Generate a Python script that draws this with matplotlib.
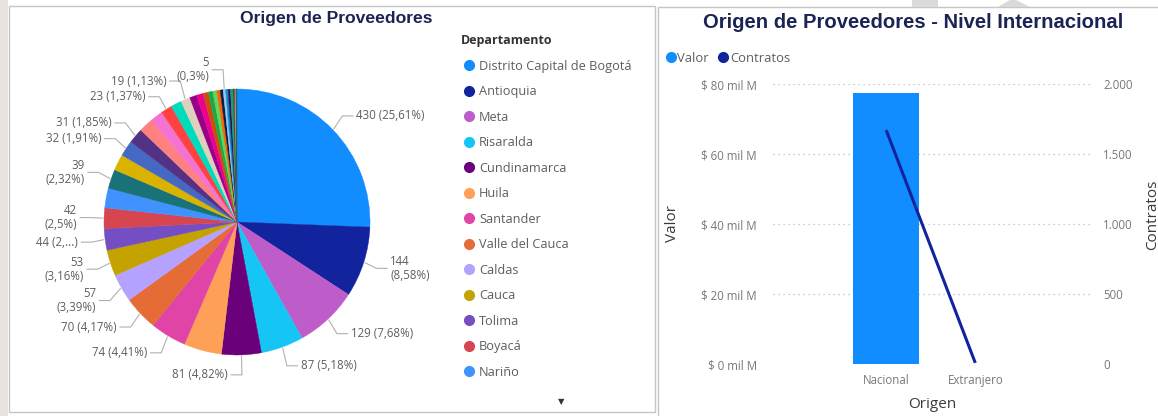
import numpy as np
import matplotlib
matplotlib.use("Agg")
import matplotlib.pyplot as plt
from matplotlib.lines import Line2D
from matplotlib.patches import Rectangle, Polygon
from matplotlib.ticker import FuncFormatter, MultipleLocator

# --- data: contratos por departamento (pie, in drawing order) ---
departamentos = [
    "Distrito Capital de Bogotá", "Antioquia", "Meta", "Risaralda", "Cundinamarca",
    "Huila", "Santander", "Valle del Cauca", "Caldas", "Cauca", "Tolima", "Boyacá",
    "Nariño", "Quindío", "Bolívar", "Atlántico", "Norte de Santander", "Magdalena",
    "Casanare", "Córdoba", "Sucre", "Cesar", "Caquetá", "Putumayo", "La Guajira",
    "Chocó", "Arauca", "Amazonas", "Guaviare", "San Andrés", "Vichada", "Vaupés",
    "Guainía", "Estados Unidos", "España", "México", "Panamá", "Chile",
]
contratos_dep = [430, 144, 129, 87, 81, 77, 74, 70, 57, 53, 44, 42, 40, 39, 33, 32,
                 31, 29, 26, 23, 22, 19, 15, 13, 11, 9, 8, 7, 6, 5, 5, 5, 5,
                 2, 2, 2, 1, 1]
colores_dep = [
    "#118DFF", "#12239E", "#BE5DC9", "#15C6F4", "#6B007B", "#FFA058", "#E044A7",
    "#E66C37", "#B5A1FF", "#C4A200", "#744EC2", "#D64550", "#4092FF", "#197278",
    "#D9B300", "#4668C5", "#533285", "#FF8080", "#F472D0", "#FF4141", "#00DBBC",
    "#DDD1BD", "#99008A", "#EC008C", "#C94F0F", "#1AAB40", "#5BD667", "#FF6300",
    "#002050", "#9FC3E7", "#0091D5", "#34124F", "#1F9A85", "#235A1E", "#6A531F",
    "#A0A0A0", "#450F54", "#1F7066",
]
# departments whose data label Power BI shows
con_etiqueta = ["Distrito Capital de Bogotá", "Antioquia", "Meta", "Risaralda",
                "Cundinamarca", "Santander", "Valle del Cauca", "Caldas", "Cauca",
                "Tolima", "Boyacá", "Quindío", "Atlántico", "Norte de Santander",
                "Córdoba", "Cesar", "San Andrés"]
etiqueta_dos_lineas = ["Antioquia", "Caldas", "Cauca", "Boyacá", "Quindío", "San Andrés"]
etiqueta_cortada = ["Tolima"]
n_leyenda = 13

# --- data: nivel internacional ---
origen = ["Nacional", "Extranjero"]
valor_mil_m = [77.5, 0.02]
contratos_origen = [1671, 8]

W, H = 1158, 416
TXT = "#605E5C"
FONT = "Open Sans"
TITLE_C = "#1C2455"


def fx(px):
    return px / W


def fy(py):
    return 1 - py / H


fig = plt.figure(figsize=(W / 100, H / 100), dpi=100)
fig.patch.set_facecolor("white")

# panel frames
fig.add_artist(Rectangle((0, 0), fx(8), 1, transform=fig.transFigure,
                         facecolor="#E9E4E0", edgecolor="none"))
fig.add_artist(Rectangle((fx(9), fy(412)), fx(655) - fx(9), fy(6) - fy(412),
                         transform=fig.transFigure, fill=False,
                         edgecolor="#C8C6C4", lw=1))
fig.add_artist(Rectangle((fx(658), fy(420)), fx(520), fy(7) - fy(420),
                         transform=fig.transFigure, fill=False,
                         edgecolor="#C8C6C4", lw=1))
fig.add_artist(Rectangle((fx(912), fy(7)), fx(26), fy(0) - fy(7),
                         transform=fig.transFigure, facecolor="#DADADA",
                         edgecolor="none"))
fig.add_artist(Polygon([(fx(998), fy(7)), (fx(1030), fy(7)), (fx(1016), fy(0)),
                        (fx(1010), fy(0))], closed=True, transform=fig.transFigure,
                       facecolor="#DADADA", edgecolor="none"))

# ---------------- pie ----------------
cx, cy, R = 237, 222, 133
ax = fig.add_axes([fx(10), fy(412), fx(455) - fx(10), fy(40) - fy(412)])
wedges, _ = ax.pie(contratos_dep, colors=colores_dep, startangle=90,
                   counterclock=False)
for w in wedges:
    w.set_edgecolor(w.get_facecolor())
    w.set_linewidth(0.3)
ax.set_aspect("auto")
ax.set_xlim((10 - cx) / R, (455 - cx) / R)
ax.set_ylim((cy - 412) / R, (cy - 40) / R)
ax.axis("off")

total = sum(contratos_dep)
line_h = 0.118


def pct_text(v):
    p = f"{100 * v / total:.2f}".rstrip("0").rstrip(".")
    return p.replace(".", ",")


labels = []
for name, v, w in zip(departamentos, contratos_dep, wedges):
    if name not in con_etiqueta:
        continue
    ang = np.deg2rad((w.theta1 + w.theta2) / 2)
    x, y = np.cos(ang), np.sin(ang)
    if name in etiqueta_dos_lineas:
        txt = f"{v}\n({pct_text(v)}%)"
        nl = 2
    elif name in etiqueta_cortada:
        txt = f"{v} ({pct_text(v)[0]},...)"
        nl = 1
    else:
        txt = f"{v} ({pct_text(v)}%)"
        nl = 1
    side = 1 if x >= 0.1 else -1
    labels.append(dict(x=x, y=y, ly=1.15 * y, txt=txt, h=nl * line_h,
                       side=side, free=abs(x) < 0.2))

# push overlapping labels apart on each side
for side in (1, -1):
    group = sorted([l for l in labels if l["side"] == side and not l["free"]],
                   key=lambda l: -l["ly"])
    for a, b in zip(group, group[1:]):
        gap = (a["h"] + b["h"]) / 2
        if a["ly"] - b["ly"] < gap:
            b["ly"] = a["ly"] - gap

for l in labels:
    x0, y0 = 1.01 * l["x"], 1.01 * l["y"]
    ex = 1.1 * l["x"]
    tx = ex + l["side"] * 0.08
    ax.plot([x0, ex, tx], [y0, l["ly"], l["ly"]], color="#B3B0AD", lw=0.8,
            clip_on=False)
    ax.text(tx + l["side"] * 0.025, l["ly"], l["txt"],
            ha="left" if l["side"] > 0 else "right", va="center",
            multialignment="left" if l["side"] > 0 else "right",
            fontsize=8.3, color=TXT, family=FONT, linespacing=1.1)

fig.text(fx(336), fy(18), "Origen de Proveedores", ha="center", va="center",
         fontsize=12.6, fontweight="bold", color=TITLE_C, family="Liberation Sans")

handles = [Line2D([], [], marker="o", ls="none", markersize=7,
                  markerfacecolor=c, markeredgecolor=c)
           for c in colores_dep[:n_leyenda]]
leg = fig.legend(handles, departamentos[:n_leyenda], loc="upper left",
                 bbox_to_anchor=(fx(456), fy(29)), frameon=False,
                 title="Departamento", alignment="left",
                 prop={"family": FONT, "size": 9.2}, labelspacing=0.98,
                 handletextpad=0.2, handlelength=1.2, borderaxespad=0)
for t in leg.get_texts():
    t.set_color(TXT)
leg.get_title().set_fontweight("bold")
leg.get_title().set_fontsize(9)
leg.get_title().set_family(FONT)
leg.get_title().set_color("#333333")
fig.text(fx(561), fy(402), "▼", ha="center", va="center", fontsize=6,
         color="#333333")

# ---------------- nivel internacional ----------------
ax2 = fig.add_axes([fx(773), fy(364), fx(1092) - fx(773), fy(84) - fy(364)])
xs = np.arange(len(origen))
ax2.bar(xs, valor_mil_m, width=0.74, color="#118DFF", zorder=2)
ax2.set_xlim(-1.27, 2.31)
ax2.set_ylim(0, 80)
ax2.yaxis.set_major_locator(MultipleLocator(20))
ax2.yaxis.set_major_formatter(FuncFormatter(lambda v, p: f"$ {v:.0f} mil M"))
ax2.set_xticks(xs)
ax2.set_xticklabels(origen)
ax2.grid(axis="y", linestyle=(0, (1, 3)), color="#BEBBB8", lw=0.9)
ax2.set_axisbelow(True)
for s in ax2.spines.values():
    s.set_visible(False)
ax2.tick_params(axis="y", length=0, pad=11.5, labelsize=8.3, labelcolor="#777777")
ax2.tick_params(axis="x", length=0, pad=7, labelsize=8.3, labelcolor="#777777")
for t in ax2.get_xticklabels() + ax2.get_yticklabels():
    t.set_family(FONT)

axr = ax2.twinx()
axr.plot(xs, contratos_origen, color="#12239E", lw=2.2, solid_capstyle="butt")
axr.set_ylim(0, 2000)
axr.yaxis.set_major_locator(MultipleLocator(500))
axr.yaxis.set_major_formatter(FuncFormatter(lambda v, p: f"{v:,.0f}".replace(",", ".")))
for s in axr.spines.values():
    s.set_visible(False)
axr.tick_params(axis="y", length=0, pad=8, labelsize=8.3, labelcolor="#777777")
for t in axr.get_yticklabels():
    t.set_family(FONT)

fig.text(fx(913), fy(22), "Origen de Proveedores - Nivel Internacional",
         ha="center", va="center", fontsize=14.6, fontweight="bold",
         color=TITLE_C, family="Liberation Sans")
fig.text(fx(673), fy(224), "Valor", rotation=90, ha="center", va="center",
         fontsize=11, color="#3A3A3A", family=FONT)
fig.text(fx(1153), fy(215), "Contratos", rotation=90, ha="center", va="center",
         fontsize=11, color="#3A3A3A", family=FONT)
fig.text(fx(932), fy(405), "Origen", ha="center", va="center",
         fontsize=11, color="#3A3A3A", family=FONT)

h2 = [Line2D([], [], marker="o", ls="none", markersize=7,
             markerfacecolor=c, markeredgecolor=c) for c in ["#118DFF", "#12239E"]]
leg2 = fig.legend(h2, ["Valor", "Contratos"], loc="upper left",
                  bbox_to_anchor=(fx(663), fy(52)), frameon=False, ncol=2,
                  prop={"family": FONT, "size": 9.4}, handletextpad=-0.1,
                  handlelength=1.2, columnspacing=0.5, borderaxespad=0,
                  borderpad=0)
for t in leg2.get_texts():
    t.set_color(TXT)

fig.savefig("out.png", dpi=100)
